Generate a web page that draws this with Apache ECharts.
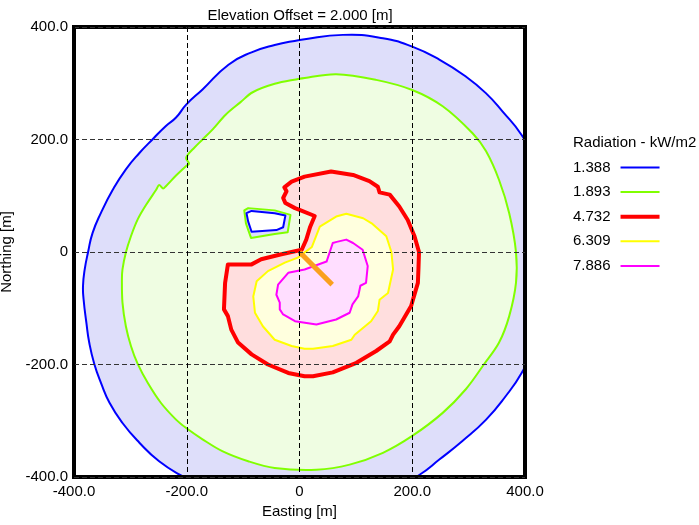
<!DOCTYPE html>
<html>
<head>
<meta charset="utf-8">
<title>Radiation contours</title>
<script src="https://cdn.jsdelivr.net/npm/echarts@6/dist/echarts.min.js"></script>
<style>
  html, body { margin: 0; padding: 0; background: #fff; }
  #chart { width: 699px; height: 525px; }
</style>
</head>
<body>
<div id="chart"></div>
<script>
// contour levels (kW/m2) and their colours
const levels = ['1.388', '1.893', '4.732', '6.309', '7.886'];
const lineColors = ['#0000ff', '#80ff00', '#ff0000', '#ffff00', '#ff00ff'];
const fillColors = ['#dedefa', '#effde2', '#ffdede', '#ffffde', '#ffdeff'];
const lineWidths = [2, 2, 4, 2, 2];
const xTicks = [-400, -200, 0, 200, 400];
const yTicks = [-400, -200, 0, 200, 400];

// contour outlines, easting / northing in metres
const blueOuter = [
  [0, 377], [77, 386], [148, 380], [200, 365], [248, 342], [295, 312], [331, 282],
  [360, 250], [394, 208], [425, 150], [445, 60], [450, -40], [438, -130], [394, -215],
  [366, -256], [331, -298], [289, -336], [248, -369], [213, -396], [150, -432],
  [60, -452], [-40, -456], [-130, -440], [-207, -399], [-249, -372], [-284, -339],
  [-314, -304], [-337, -268], [-352, -233], [-364, -199], [-373, -161], [-378, -126],
  [-383, -84], [-384, -60], [-381, -31], [-375, 0], [-367, 34], [-352, 70],
  [-331, 111], [-308, 147], [-284, 176], [-260, 201], [-237, 224], [-219, 239],
  [-201, 262], [-172, 289], [-126, 333], [-85, 355], [-44, 368], [0, 377]
];
const greenOuter = [
  [0, 308], [65, 316], [136, 306], [200, 288], [254, 259], [307, 211], [331, 179],
  [354, 128], [372, 69], [384, 0], [384, -55], [372, -114], [354, -161], [327, -200],
  [295, -244], [254, -286], [200, -327], [148, -357], [89, -378], [30, -387],
  [-44, -384], [-91, -372], [-137, -354], [-172, -333], [-201, -313], [-219, -298],
  [-246, -268], [-269, -233], [-287, -199], [-299, -167], [-308, -132], [-314, -90],
  [-315, -49], [-314, -31], [-308, -1], [-299, 28], [-287, 58], [-272, 84],
  [-254, 111], [-249, 119], [-242, 113], [-237, 117], [-219, 136], [-201, 153],
  [-196, 157], [-201, 166], [-198, 173], [-187, 185], [-172, 200], [-154, 218],
  [-131, 244], [-105, 266], [-83, 284], [-44, 299], [0, 308]
];
const greenIsland = [
  [-98, 74], [-91, 78], [-44, 74], [-16, 66], [-21, 35], [-44, 32], [-86, 25], [-95, 51], [-98, 74]
];
const blueIsland = [
  [-94, 69], [-85, 73], [-44, 69], [-25, 65], [-29, 44], [-41, 39], [-85, 36], [-91, 54], [-94, 69]
];
const redContour = [
  [-14, 125], [9, 134], [56, 143], [95, 137], [124, 126], [139, 116], [142, 106],
  [160, 102], [177, 81], [192, 57], [204, 28], [212, 0], [211, -30], [210, -55],
  [198, -96], [177, -132], [166, -147], [160, -159], [136, -176], [101, -197],
  [59, -214], [24, -221], [9, -221], [-20, -215], [-56, -200], [-85, -182],
  [-109, -161], [-121, -138], [-127, -114], [-134, -102], [-132, -55], [-127, -22],
  [-85, -22], [-68, -13], [-32, -4], [4, 4], [12, 22], [19, 45], [27, 64], [0, 75],
  [-8, 78], [-25, 87], [-29, 96], [-23, 108], [-27, 115], [-14, 125]
];
const yellowContour = [
  [22, 9], [36, 45], [65, 63], [83, 68], [113, 60], [128, 51], [154, 28], [163, 0],
  [166, -31], [157, -73], [142, -85], [139, -105], [127, -123], [98, -147],
  [92, -156], [59, -167], [24, -172], [9, -172], [-14, -167], [-44, -156],
  [-65, -132], [-79, -108], [-82, -79], [-76, -52], [-56, -34], [-26, -19],
  [-3, -10], [22, 9]
];
const magentaContour = [
  [48, -17], [59, 16], [66, 18], [83, 22], [95, 16], [112, 4], [121, -25],
  [118, -55], [108, -60], [104, -79], [94, -93], [89, -108], [65, -120], [30, -129],
  [-8, -123], [-29, -111], [-35, -102], [-35, -90], [-41, -76], [-38, -58],
  [-20, -37], [9, -31], [48, -17]
];
// release direction
const sourceLine = [[0, 0], [58, -58]];

const font = 'Liberation Sans, Arial, sans-serif';

// each outline: which level it belongs to, its fill and its paint order
const contours = [
  { level: 0, pts: blueOuter, fill: fillColors[0], order: 0, smooth: 0.5 },
  { level: 1, pts: greenOuter, fill: fillColors[1], order: 1, smooth: 0.35 },
  { level: 1, pts: greenIsland, fill: fillColors[0], order: 2, smooth: 0 },
  { level: 0, pts: blueIsland, fill: '#ffffff', order: 3, smooth: 0 },
  { level: 2, pts: redContour, fill: fillColors[2], order: 4, smooth: 0 },
  { level: 3, pts: yellowContour, fill: fillColors[3], order: 5, smooth: 0 },
  { level: 4, pts: magentaContour, fill: fillColors[4], order: 6, smooth: 0 }
];

const series = levels.map(function (name, i) {
  const parts = contours.filter(function (c) { return c.level === i; });
  return {
    name: name,
    type: 'custom',
    clip: true,
    silent: true,
    z: 2,
    itemStyle: { color: lineColors[i] },
    data: parts.map(function (c) { return c.pts[0]; }),
    renderItem: function (params, api) {
      const c = parts[params.dataIndex];
      const points = c.pts.map(function (p) { return api.coord(p); });
      return {
        type: 'polygon',
        z2: c.order,
        shape: { points: points, smooth: c.smooth },
        style: { fill: c.fill, stroke: lineColors[i], lineWidth: lineWidths[i], lineJoin: 'round' }
      };
    }
  };
});

series.push({
  type: 'line',
  data: sourceLine,
  symbol: 'none',
  silent: true,
  lineStyle: { color: '#faa01e', width: 5 },
  z: 4
});

const labelFmt = function (v) { return v === 0 ? '0' : v.toFixed(1); };

const chart = echarts.init(document.getElementById('chart'));
chart.setOption({
  animation: false,
  backgroundColor: '#fff',
  title: [
    {
      text: 'Elevation Offset = 2.000 [m]',
      left: 300, top: 8, textAlign: 'center', padding: 0,
      textStyle: { fontSize: 15, fontWeight: 'normal', color: '#000', fontFamily: font }
    },
    {
      text: 'Radiation - kW/m2',
      left: 573, top: 135, textAlign: 'left', padding: 0,
      textStyle: { fontSize: 15, fontWeight: 'normal', color: '#000', fontFamily: font }
    }
  ],
  legend: {
    orient: 'vertical',
    left: 573,
    top: 160,
    align: 'right',
    padding: 0,
    itemWidth: 39,
    itemHeight: 15,
    itemGap: 9.6,
    itemStyle: { borderWidth: 0 },
    textStyle: { fontSize: 15, color: '#000', fontFamily: font, padding: [0, 5, 0, 0] },
    data: levels.map(function (name, i) {
      return { name: name, icon: 'path://M0,0H39V' + lineWidths[i] + 'H0Z' };
    })
  },
  grid: {
    left: 74, right: 174, top: 27, bottom: 48,
    outerBoundsMode: 'none',
    show: true, borderColor: '#000', borderWidth: 4, z: 10
  },
  xAxis: {
    type: 'value',
    min: xTicks[0], max: xTicks[xTicks.length - 1], interval: 200,
    z: 10,
    name: 'Easting [m]', nameLocation: 'middle', nameGap: 26,
    nameTextStyle: { fontSize: 15, color: '#000', fontFamily: font },
    axisLine: { show: false },
    axisTick: { show: false },
    axisLabel: { margin: 7, fontSize: 15, color: '#000', fontFamily: font, formatter: labelFmt },
    splitLine: { show: true, lineStyle: { color: '#000', width: 1, type: [5, 3] } }
  },
  yAxis: {
    type: 'value',
    min: yTicks[0], max: yTicks[yTicks.length - 1], interval: 200,
    z: 10,
    name: 'Northing [m]', nameLocation: 'middle', nameGap: 52,
    nameTextStyle: { fontSize: 15, color: '#000', fontFamily: font },
    axisLine: { show: false },
    axisTick: { show: false },
    axisLabel: { margin: 6, fontSize: 15, color: '#000', fontFamily: font, formatter: labelFmt },
    splitLine: { show: true, lineStyle: { color: '#333', width: 1, type: [5, 3] } }
  },
  series: series
});
</script>
</body>
</html>
